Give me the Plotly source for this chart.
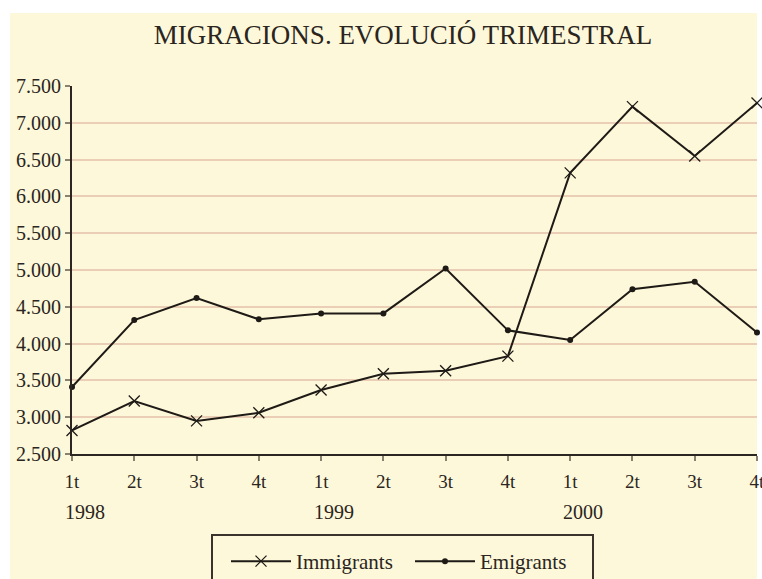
import plotly.graph_objects as go

quarters = ["1t", "2t", "3t", "4t", "1t", "2t", "3t", "4t", "1t", "2t", "3t", "4t"]
years = ["1998", "1999", "2000"]
year_start_idx = [0, 4, 8]
immigrants = [2820, 3220, 2950, 3060, 3370, 3590, 3630, 3830, 6320, 7220, 6550, 7270]
emigrants = [3410, 4320, 4620, 4330, 4410, 4410, 5020, 4180, 4050, 4740, 4840, 4150]
y_ticks = [2500, 3000, 3500, 4000, 4500, 5000, 5500, 6000, 6500, 7000, 7500]

x_idx = list(range(len(quarters)))
CREAM = "#FEF8DA"
INK = "#1e1a16"
TXT = "#2a2520"
FONT = "Liberation Serif"

W, H = 762, 579
ml, mr, mt, mb = 72, 5, 86, 125
pw = W - ml - mr
ph = H - mt - mb
base = H - mb  # pixel y of paper y=0


def px_x(p):
    return (p - ml) / pw


def px_y(p):
    return (base - p) / ph


fig = go.Figure()
fig.add_trace(go.Scatter(
    x=x_idx, y=immigrants, name="Immigrants", mode="lines+markers",
    line=dict(color=INK, width=2),
    marker=dict(symbol="x-thin", size=11, line=dict(color=INK, width=1.3), color=INK),
    cliponaxis=False,
))
fig.add_trace(go.Scatter(
    x=x_idx, y=emigrants, name="Emigrants", mode="lines+markers",
    line=dict(color=INK, width=2),
    marker=dict(symbol="circle", size=6, color=INK),
    cliponaxis=False,
))

# cream panel covering most of the page
fig.add_shape(type="rect", xref="paper", yref="paper", layer="below",
              x0=px_x(10), x1=px_x(757), y0=px_y(585), y1=px_y(13),
              fillcolor=CREAM, line=dict(width=0))
# legend frame (runs past the bottom edge, as in the original)
fig.add_shape(type="rect", xref="paper", yref="paper", layer="below",
              x0=px_x(212), x1=px_x(593), y0=px_y(592), y1=px_y(535),
              fillcolor=CREAM, line=dict(color="#3a332c", width=2))

for yi, yr in zip(year_start_idx, years):
    fig.add_annotation(x=yi, y=0, xref="x", yref="paper", text=yr, showarrow=False,
                       xanchor="left", yanchor="middle", xshift=-9, yshift=-58,
                       font=dict(family=FONT, size=20, color=TXT))

fig.update_layout(
    width=W, height=H,
    margin=dict(l=ml, r=mr, t=mt, b=mb, autoexpand=False),
    paper_bgcolor="white", plot_bgcolor=CREAM,
    separators=",.",
    title=dict(text="MIGRACIONS. EVOLUCIÓ TRIMESTRAL", x=403 / W, xanchor="center",
               y=1 - 35 / H, yanchor="middle",
               font=dict(family=FONT, size=27, color=TXT)),
    showlegend=True,
    legend=dict(orientation="h", x=px_x(212), xanchor="left",
                y=px_y(541), yanchor="top",
                bgcolor="rgba(0,0,0,0)", borderwidth=0,
                font=dict(family=FONT, size=21, color=TXT),
                indentation=14,
                itemwidth=60, entrywidth=95, traceorder="normal"),
    xaxis=dict(range=[0, 11], tickvals=x_idx, ticktext=quarters,
               showgrid=False, zeroline=False,
               showline=True, linecolor="#2b2621", linewidth=2,
               ticks="outside", ticklen=5, tickcolor="#8a8070", tickwidth=1.5,
               ticklabelstandoff=4, ticklabeloverflow="allow",
               tickfont=dict(family=FONT, size=19, color=TXT)),
    yaxis=dict(range=[2500, 7500], tickvals=y_ticks, tickformat=",d",
               showgrid=True, gridcolor="#EACFB6", gridwidth=2,
               zeroline=False,
               showline=True, linecolor="#2b2621", linewidth=2,
               ticks="outside", ticklen=5, tickcolor="#8a8070", tickwidth=1.5,
               tickfont=dict(family=FONT, size=20, color=TXT)),
)

fig.write_html("out.html", config={"displayModeBar": False},
               post_script="document.body.style.margin='0';")
